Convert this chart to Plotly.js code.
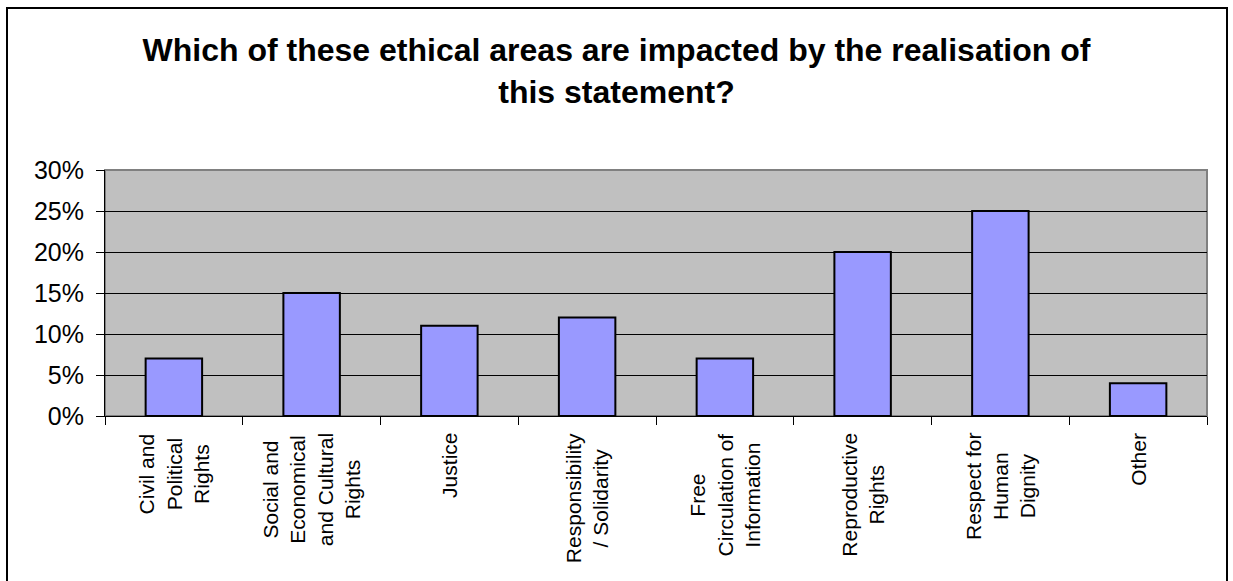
<!DOCTYPE html>
<html>
<head>
<meta charset="utf-8">
<script src="https://cdn.plot.ly/plotly-3.0.1.min.js"></script>
<style>
  html, body { margin: 0; padding: 0; background: #ffffff; overflow: hidden; }
  #wrap { position: relative; width: 1233px; height: 581px; }
  #chart { position: absolute; left: 0; top: 0; width: 1233px; height: 581px; }
  #frame { position: absolute; left: 6px; top: 7px; width: 1218px; height: 600px;
           border: 2px solid #000; pointer-events: none; }
</style>
</head>
<body>
<div id="wrap">
  <div id="chart"></div>
  <div id="frame"></div>
</div>
<script>
// ---- data ----
const categories = [
  "Civil and<br>Political<br>Rights",
  "Social and<br>Economical<br>and Cultural<br>Rights",
  "Justice",
  "Responsibility<br>/ Solidarity",
  "Free<br>Circulation of<br>Information",
  "Reproductive<br>Rights",
  "Respect for<br>Human<br>Dignity",
  "Other"
];
const shares = [0.07, 0.15, 0.11, 0.12, 0.07, 0.20, 0.25, 0.04];
const yTickValues = [0, 0.05, 0.10, 0.15, 0.20, 0.25, 0.30];
const yTickLabels = ["0%", "5%", "10%", "15%", "20%", "25%", "30%"];
const chartTitle = "Which of these ethical areas are impacted by the realisation of<br>this statement?";

const FONT = "Arial, 'Liberation Sans', sans-serif";

const trace = {
  type: "bar",
  x: categories,
  y: shares,
  marker: { color: "#9999FF", line: { color: "#000000", width: 2 } },
  hoverinfo: "x+y"
};

const annotations = categories.map(c => ({
  x: c, xref: "x",
  y: 0, yref: "paper",
  yshift: -15,
  text: c,
  textangle: -90,
  showarrow: false,
  xanchor: "center",
  yanchor: "top",
  align: "center",
  font: { family: FONT, size: 21, color: "#000" }
}));

const layout = {
  width: 1233, height: 581,
  margin: { l: 105, r: 26, t: 170, b: 165, pad: 0 },
  paper_bgcolor: "#ffffff",
  plot_bgcolor: "#C0C0C0",
  showlegend: false,
  bargap: 0.59,
  font: { family: FONT, color: "#000" },
  title: {
    text: chartTitle,
    font: { family: FONT, size: 32, color: "#000", weight: "bold" },
    x: 0.5, xanchor: "center",
    xref: "container",
    y: 0.895, yanchor: "top", yref: "container"
  },
  xaxis: {
    type: "category",
    tickson: "boundaries",
    ticks: "outside", ticklen: 8, tickcolor: "#000", tickwidth: 1,
    showticklabels: false,
    showline: true, linecolor: "#000", linewidth: 1,
    showgrid: false, zeroline: false,
    fixedrange: true
  },
  yaxis: {
    range: [0, 0.30],
    tickvals: yTickValues,
    ticktext: yTickLabels,
    ticks: "outside", ticklen: 8, tickcolor: "#000", tickwidth: 1,
    ticklabelstandoff: 7,
    tickfont: { family: FONT, size: 25, color: "#000" },
    showline: true, linecolor: "#000", linewidth: 1,
    showgrid: true, gridcolor: "#000", gridwidth: 1,
    zeroline: false,
    fixedrange: true
  },
  shapes: [{
    type: "rect", xref: "paper", yref: "paper",
    x0: 0, x1: 1, y0: 0, y1: 1,
    line: { color: "#808080", width: 2 },
    layer: "between"
  }],
  annotations: annotations
};

Plotly.newPlot("chart", [trace], layout, { displayModeBar: false, staticPlot: true });
</script>
</body>
</html>
